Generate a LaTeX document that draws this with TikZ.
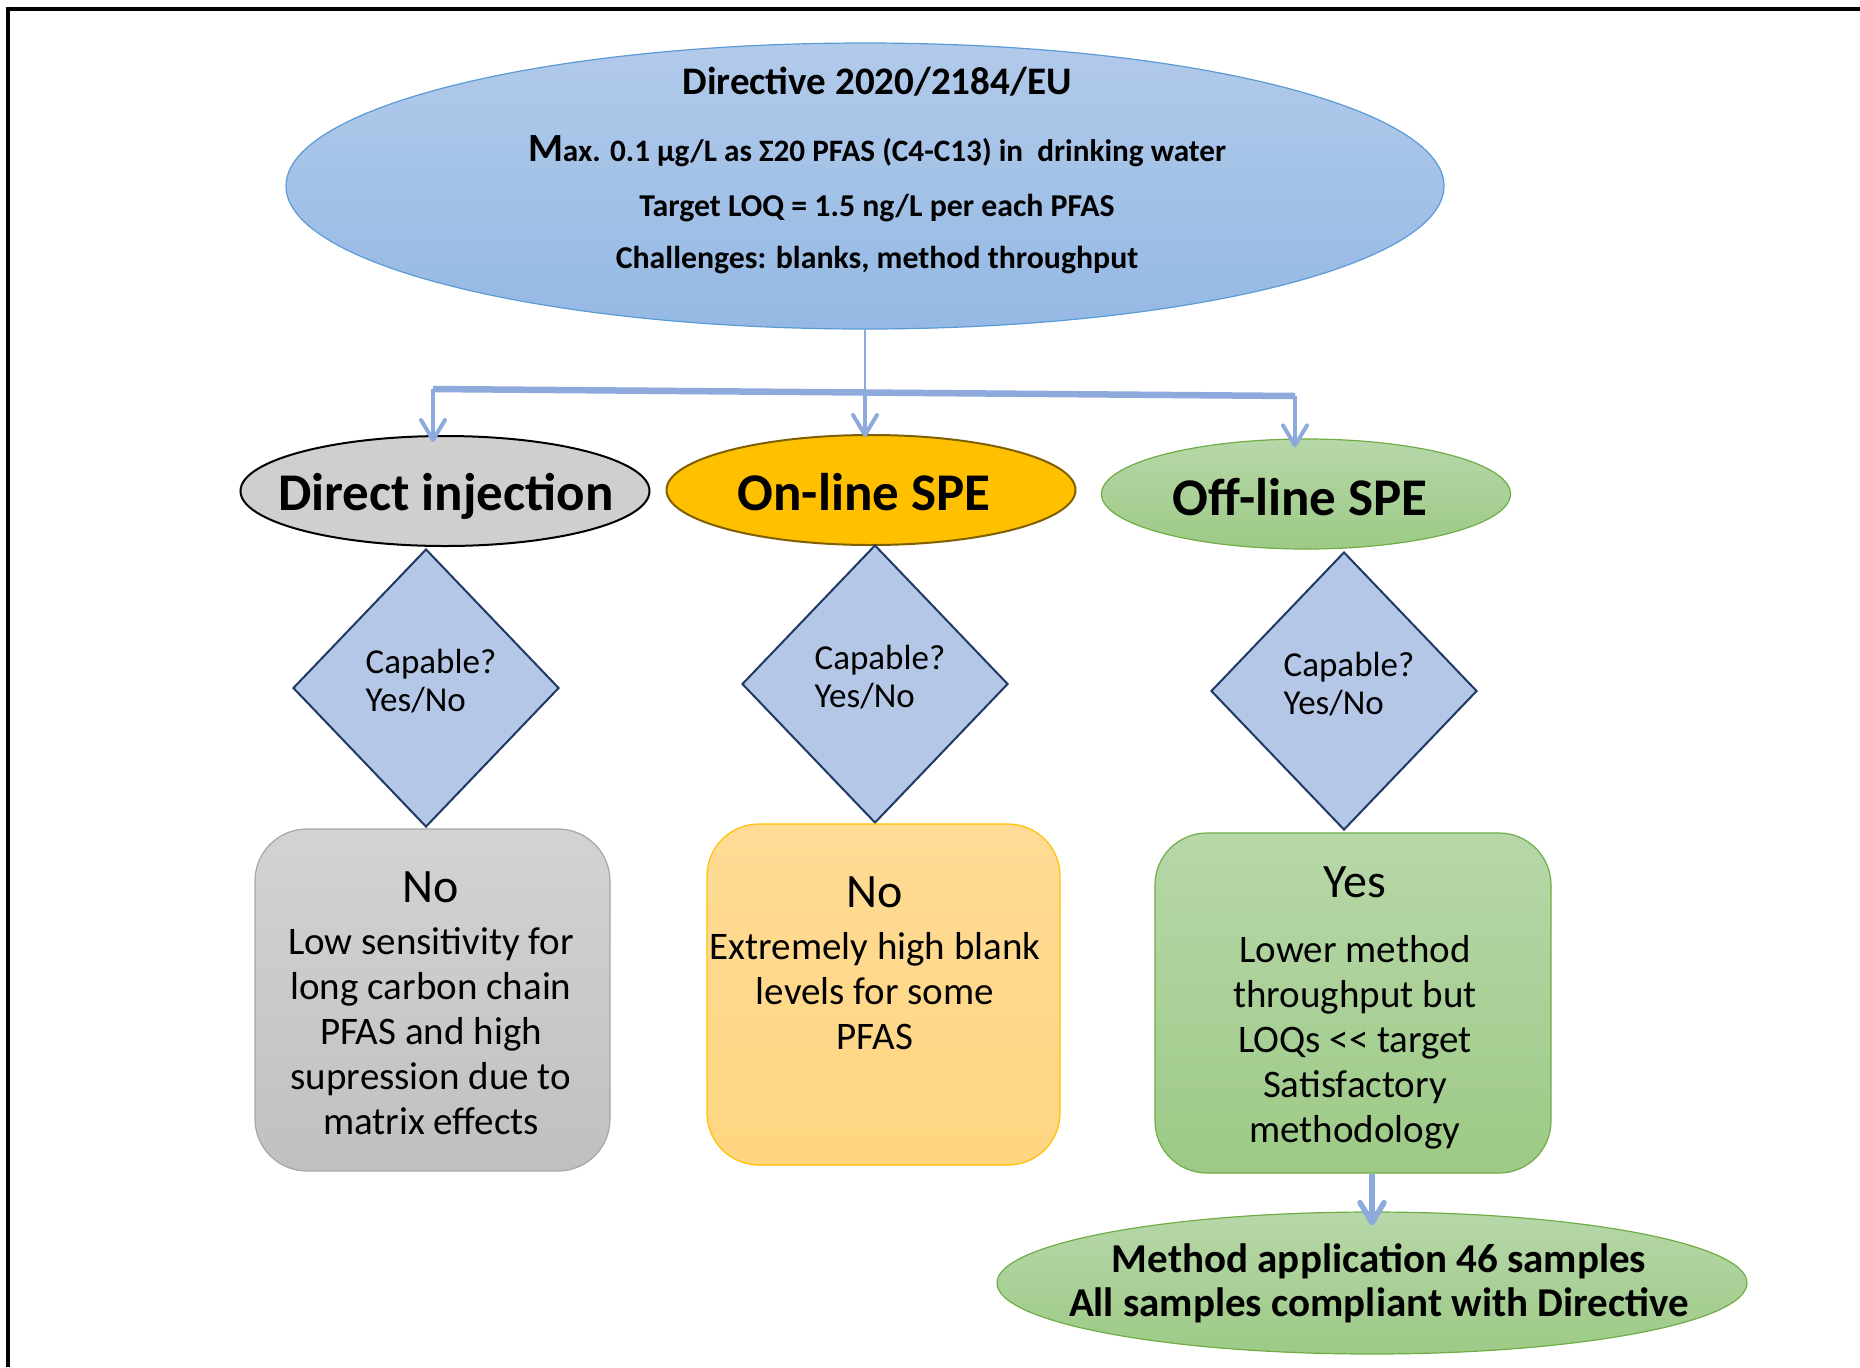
\documentclass[tikz,border=0pt]{standalone}
\usepackage{fontspec}
\setmainfont{Carlito}
\usepackage{xcolor}
\usetikzlibrary{arrows.meta,positioning,shapes.geometric}
\definecolor{linkblue}{RGB}{142,169,219}
\definecolor{dirtop}{RGB}{178,202,234}
\definecolor{dirbot}{RGB}{148,185,228}
\definecolor{dirline}{RGB}{91,155,213}
\definecolor{injgrey}{RGB}{208,206,206}
\definecolor{gold}{RGB}{255,192,0}
\definecolor{goldline}{RGB}{127,96,0}
\definecolor{greentop}{RGB}{183,215,169}
\definecolor{greenbot}{RGB}{157,202,134}
\definecolor{greenline}{RGB}{112,173,71}
\definecolor{decide}{RGB}{180,199,231}
\definecolor{decideline}{RGB}{31,56,100}
\definecolor{boxgreytop}{RGB}{211,211,211}
\definecolor{boxgreybot}{RGB}{192,192,192}
\definecolor{boxgreyline}{RGB}{166,166,166}
\definecolor{peachtop}{RGB}{255,219,150}
\definecolor{peachbot}{RGB}{255,213,128}

\begin{document}
\begin{tikzpicture}[
    x=0.5pt, y=-0.5pt,
    dirline/.style={font=\fontsize{15.9}{18}\selectfont\bfseries},
    method/.style={ellipse,minimum width=204.5pt,minimum height=55pt,inner sep=0pt},
    methodtext/.style={font=\fontsize{26.5}{30}\selectfont\bfseries},
    question/.style={diamond,draw=decideline,line width=1pt,fill=decide,minimum width=133pt,minimum height=139pt,inner sep=0pt},
    questiontext/.style={align=left,font=\fontsize{17.5}{19}\selectfont},
    verdict/.style={rectangle,rounded corners=26pt,minimum height=171pt,inner sep=0pt},
    verdicttext/.style={align=center,font=\fontsize{19.5}{22.5}\selectfont},
    greenfill/.style={top color=greentop,bottom color=greenbot,draw=greenline,line width=0.6pt},
    link/.style={draw=linkblue,line width=2pt,-{Straight Barb[length=10pt,width=12pt,round]}}
]
\useasboundingbox (0,0) rectangle (1860,1367);
\draw[line width=1.75pt] (8,1367) -- (8,9) -- (1860,9);

% directive
\node[ellipse,minimum width=579pt,minimum height=143pt,top color=dirtop,bottom color=dirbot,draw=dirline,line width=0.6pt] (directive) at (865,186) {};
\node[font=\fontsize{19.5}{22}\selectfont\bfseries] (dtitle) at (877,82) {Directive 2020/2184/EU};
\node[dirline,font=\fontsize{15.6}{18}\selectfont\bfseries] (dmax) at (877,151) {{\fontsize{20}{22}\selectfont M}ax. 0.1 µg/L as Σ20 PFAS (C4-C13) in\ \ drinking water};
\node[dirline] (dloq) at (877,208) {Target LOQ = 1.5 ng/L per each PFAS};
\node[dirline] (dchal) at (877,260) {Challenges: blanks, method throughput};

% the three approaches
\node[method,fill=injgrey,draw=black,line width=1pt] (inj) at (445,491) {};
\node[method,fill=gold,draw=goldline,line width=1pt] (online) at (871,490) {};
\node[method,greenfill] (offline) at (1306,494) {};
\node[methodtext] (injtext) at (446,496) {Direct injection};
\node[methodtext] (onlinetext) at (864,492) {On-line SPE};
\node[methodtext] (offlinetext) at (1300,497) {Off-line SPE};

\coordinate (barL) at (433,389);
\coordinate (barR) at (1295,396);
\draw[linkblue,line width=1.25pt] (directive.south) -- (directive.south |- barL);
\draw[linkblue,line width=3.25pt] (barL) -- (barR);
\draw[link,shorten >=-3.5pt] (barL) -- (barL |- inj.north);
\draw[link,shorten >=-1.5pt] (directive.south |- barL) -- (directive.south |- online.north);
\draw[link,shorten >=-4.5pt] (barR) -- (barR |- offline.north);

% capable?
\node[question] (qinj) at (426,688) {};
\node[question] (qonline) at (875,684) {};
\node[question] (qoffline) at (1344,691) {};
\node[questiontext] (qinjtext) at ([xshift=2.5pt,yshift=3.5pt]qinj.center) {Capable?\\Yes/No};
\node[questiontext] (qonlinetext) at ([xshift=2.5pt,yshift=3.5pt]qonline.center) {Capable?\\Yes/No};
\node[questiontext] (qofflinetext) at ([xshift=2.5pt,yshift=3.5pt]qoffline.center) {Capable?\\Yes/No};

% outcomes
\node[verdict,minimum width=177.5pt,top color=boxgreytop,bottom color=boxgreybot,draw=boxgreyline,line width=0.6pt] (binj) at (432.5,1000) {};
\node[verdict,minimum width=176.5pt,minimum height=170.5pt,top color=peachtop,bottom color=peachbot,draw=gold,line width=0.6pt] (bonline) at (883.5,994.5) {};
\node[verdict,minimum width=198pt,minimum height=170pt,greenfill] (boffline) at (1353,1003) {};

\node[verdicttext] (tinj) at (431,1003) {{\fontsize{24}{26}\selectfont No}\\[3.5pt]Low sensitivity for\\long carbon chain\\PFAS and high\\supression due to\\matrix effects};
\node[verdicttext] (tonline) at (875,963) {{\fontsize{24}{26}\selectfont No}\\[3.5pt]Extremely high blank\\levels for some\\PFAS};
\node[verdicttext] (toffline) at (1355,1008) {{\fontsize{24}{26}\selectfont Yes}\\[10pt]Lower method\\throughput but\\LOQs <{}< target\\Satisfactory\\methodology};

% application
\node[ellipse,minimum width=375pt,minimum height=71pt,inner sep=0pt,greenfill] (apply) at (1372,1283) {};
\node[align=center,font=\fontsize{20.5}{22}\selectfont\bfseries] (applytext) at (1379,1283) {Method application 46 samples\\All samples compliant with Directive};
\draw[link,line width=2.75pt,shorten >=-7pt] (boffline.south -| apply.north) -- (apply.north);
\end{tikzpicture}
\end{document}
